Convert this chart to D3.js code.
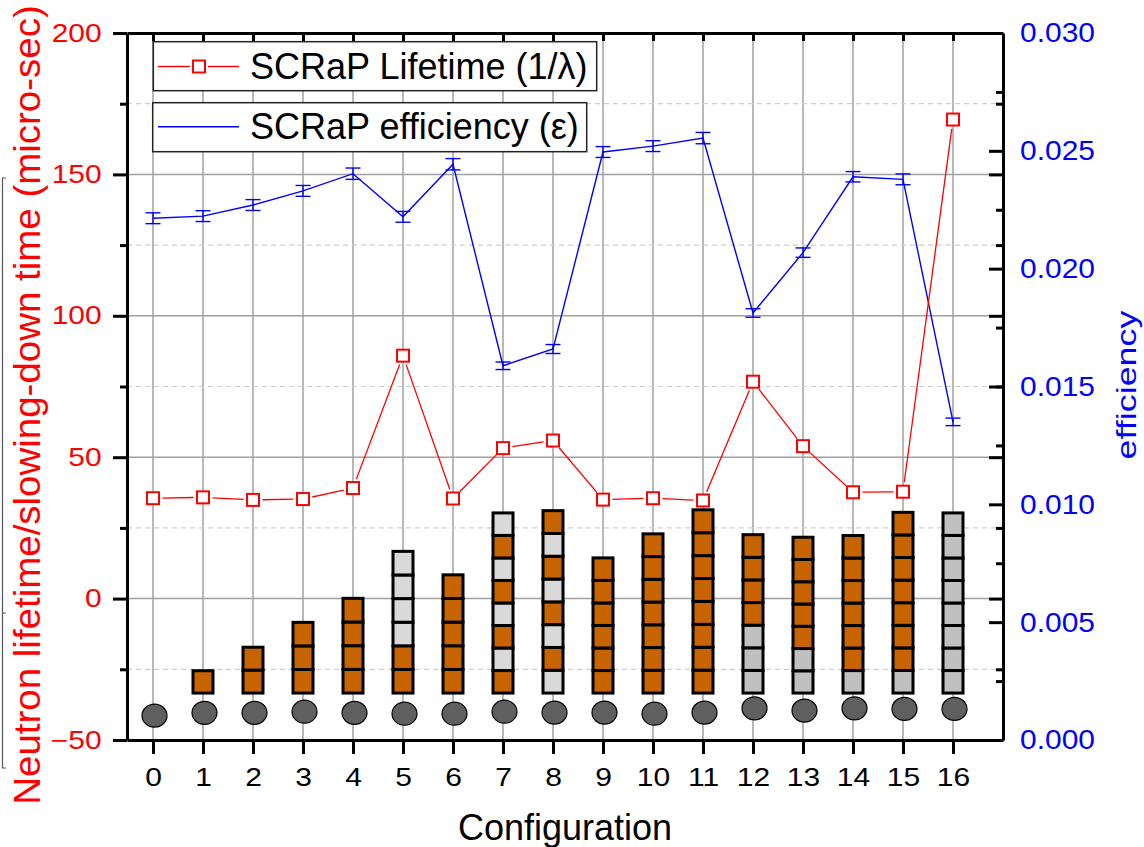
<!DOCTYPE html>
<html><head><meta charset="utf-8">
<script src="https://cdn.jsdelivr.net/npm/d3@7"></script>
<style>
body{margin:0;background:#fff}
svg{display:block}
text{font-family:"Liberation Sans", Arial, Helvetica, sans-serif}
</style>
</head><body>
<svg id="chart" width="1144" height="847"></svg>
<script>
// ---------------- data ----------------
const configs = [0,1,2,3,4,5,6,7,8,9,10,11,12,13,14,15,16];
const lifetime = [35.5, 35.8, 34.9, 35.2, 39.1, 85.9, 35.4, 53.2, 55.9, 35.0, 35.5, 34.7, 76.7, 53.9, 37.6, 37.8, 169.4];
const efficiency = [0.02214, 0.02223, 0.0227, 0.0233, 0.02403, 0.0222, 0.02443, 0.01588, 0.01659, 0.02495, 0.0252, 0.02554, 0.01812, 0.02068, 0.0239, 0.02379, 0.01350];
const efficiencyErr = [0.00023, 0.00023, 0.00023, 0.00023, 0.00024, 0.00023, 0.00024, 0.00016, 0.00019, 0.00023, 0.00023, 0.00024, 0.00018, 0.0002, 0.00022, 0.00023, 0.00016];
// stack composition, bottom to top: O = orange block, L = light grey block, G = grey block
const stackPattern = ["", "O", "OO", "OOO", "OOOO", "OOLLLL", "OOOOO", "OLOLOLOL", "LOLOLOLO", "OOOOOO", "OOOOOOO", "OOOOOOOO", "GGGOOOO", "GGOOOOO", "GOOOOOO", "GOOOOOOO", "GGGGGGGG"];
const stackTop = [null, -25.5, -17.2, -8.4, 0.1, 16.7, 8.4, 30.3, 31.1, 14.4, 22.9, 31.4, 22.6, 21.7, 22.3, 30.5, 30.3];
const stackBase = -33.4;
const discLevel = [-41.4, -40.4, -40.4, -40.0, -40.4, -40.7, -40.7, -40.0, -40.3, -40.3, -40.7, -40.3, -38.8, -39.6, -38.8, -39.0, -39.0];
const leftMajorTicks = [-50, 0, 50, 100, 150, 200];
const leftMinorTicks = [-25, 25, 75, 125, 175];
const rightMajorTicks = [0, 0.005, 0.010, 0.015, 0.020, 0.025, 0.030];
const rightMinorTicks = [0.0025, 0.0075, 0.0125, 0.0175, 0.0225, 0.0275];
const legendLabels = ["SCRaP Lifetime (1/λ)", "SCRaP efficiency (ε)"];
const xTitle = "Configuration";
const yLeftTitle = "Neutron lifetime/slowing-down time (micro-sec)";
const yRightTitle = "efficiency";

// ---------------- layout ----------------
const L = 127, R = 1003, T = 33, B = 740;
const svg = d3.select("#chart");
const x = d3.scaleLinear().domain([-0.52, 17]).range([L, R]);
const yL = d3.scaleLinear().domain([-50, 200]).range([B, T]);
const yR = d3.scaleLinear().domain([0, 0.03]).range([B, T]);
const blockColor = {O: "#C86400", L: "#D9D9D9", G: "#C0C0C0"};
const RED = "#FF0000", BLUE = "#0000FF";

// ---------------- grid ----------------
const grid = svg.append("g");
grid.selectAll("line.v").data(configs).join("line")
  .attr("x1", d => x(d)).attr("x2", d => x(d)).attr("y1", T).attr("y2", B)
  .attr("stroke", "#A0A0A0").attr("stroke-width", 1.5);
grid.selectAll("line.hmaj").data(leftMajorTicks.filter(d => d > -50 && d < 200)).join("line")
  .attr("x1", L).attr("x2", R).attr("y1", d => yL(d)).attr("y2", d => yL(d))
  .attr("stroke", "#A0A0A0").attr("stroke-width", 1.5);
grid.selectAll("line.hmin").data(leftMinorTicks).join("line")
  .attr("x1", L).attr("x2", R).attr("y1", d => yL(d)).attr("y2", d => yL(d))
  .attr("stroke", "#CFCFCF").attr("stroke-width", 1.2).attr("stroke-dasharray", "5,4");

// ---------------- legend boxes ----------------
const leg = svg.append("g");
const legBoxes = [{x: 153.3, y: 41.7, w: 443.4, h: 49}, {x: 152.7, y: 102.7, w: 434, h: 49}];
leg.selectAll("rect").data(legBoxes).join("rect")
  .attr("x", d => d.x).attr("y", d => d.y).attr("width", d => d.w).attr("height", d => d.h)
  .attr("fill", "#fff").attr("stroke", "#222").attr("stroke-width", 1.5);
leg.append("line").attr("x1", 158).attr("x2", 190).attr("y1", 66.5).attr("y2", 66.5).attr("stroke", RED).attr("stroke-width", 1.4);
leg.append("line").attr("x1", 208).attr("x2", 239).attr("y1", 66.5).attr("y2", 66.5).attr("stroke", RED).attr("stroke-width", 1.4);
leg.append("rect").attr("x", 193).attr("y", 60.5).attr("width", 12).attr("height", 12).attr("fill", "#fff").attr("stroke", RED).attr("stroke-width", 2);
leg.append("text").attr("x", 250).attr("y", 78.5).attr("font-size", 36).attr("fill", "#000").text(legendLabels[0]);
leg.append("line").attr("x1", 158).attr("x2", 239).attr("y1", 126.7).attr("y2", 126.7).attr("stroke", BLUE).attr("stroke-width", 1.4);
leg.append("text").attr("x", 250).attr("y", 138.5).attr("font-size", 36).attr("fill", "#000").text(legendLabels[1]);

// ---------------- block stacks ----------------
const blocks = [];
configs.forEach((c, i) => {
  const p = stackPattern[i];
  if (!p) return;
  const h = (stackTop[i] - stackBase) / p.length;
  for (let j = 0; j < p.length; j++) blocks.push({c, k: p[j], lo: stackBase + j * h, hi: stackBase + (j + 1) * h});
});
const bw = 20;
svg.append("g").selectAll("rect").data(blocks).join("rect")
  .attr("x", d => x(d.c) - bw / 2).attr("width", bw)
  .attr("y", d => yL(d.hi)).attr("height", d => yL(d.lo) - yL(d.hi))
  .attr("fill", d => blockColor[d.k]).attr("stroke", "#000").attr("stroke-width", 3);
svg.append("g").selectAll("ellipse").data(configs).join("ellipse")
  .attr("cx", d => x(d) + 1.5).attr("cy", (d, i) => yL(discLevel[i]))
  .attr("rx", 12.5).attr("ry", 11.5)
  .attr("fill", "#5F5F5F").attr("stroke", "#000").attr("stroke-width", 1.2);

// ---------------- efficiency (blue) ----------------
const blue = svg.append("g");
blue.append("path").datum(configs)
  .attr("d", d3.line().x(d => x(d)).y((d, i) => yR(efficiency[i])))
  .attr("fill", "none").attr("stroke", BLUE).attr("stroke-width", 1.4);
const eb = blue.selectAll("g").data(configs).join("g").attr("stroke", BLUE).attr("stroke-width", 1.4);
eb.append("line").attr("x1", d => x(d)).attr("x2", d => x(d))
  .attr("y1", (d, i) => yR(efficiency[i] + efficiencyErr[i])).attr("y2", (d, i) => yR(efficiency[i] - efficiencyErr[i]));
eb.append("line").attr("x1", d => x(d) - 7.5).attr("x2", d => x(d) + 7.5)
  .attr("y1", (d, i) => yR(efficiency[i] + efficiencyErr[i])).attr("y2", (d, i) => yR(efficiency[i] + efficiencyErr[i]));
eb.append("line").attr("x1", d => x(d) - 7.5).attr("x2", d => x(d) + 7.5)
  .attr("y1", (d, i) => yR(efficiency[i] - efficiencyErr[i])).attr("y2", (d, i) => yR(efficiency[i] - efficiencyErr[i]));

// ---------------- lifetime (red) ----------------
const red = svg.append("g");
const pts = configs.map((c, i) => [x(c), yL(lifetime[i])]);
const segs = d3.pairs(pts).map(([p, q]) => {
  const dx = q[0] - p[0], dy = q[1] - p[1], dd = Math.hypot(dx, dy), t = 9.5 / dd;
  return [p[0] + dx * t, p[1] + dy * t, q[0] - dx * t, q[1] - dy * t];
});
red.selectAll("line").data(segs).join("line")
  .attr("x1", d => d[0]).attr("y1", d => d[1]).attr("x2", d => d[2]).attr("y2", d => d[3])
  .attr("stroke", RED).attr("stroke-width", 1.3);
red.selectAll("rect").data(configs).join("rect")
  .attr("x", d => x(d) - 6).attr("y", (d, i) => yL(lifetime[i]) - 6)
  .attr("width", 12).attr("height", 12)
  .attr("fill", "#fff").attr("stroke", RED).attr("stroke-width", 2);

// ---------------- axes ----------------
function thick(g) {
  g.attr("font-size", null).attr("font-family", null);
  g.select(".domain").attr("stroke", "#000").attr("stroke-width", 3);
  g.selectAll(".tick line").attr("stroke", "#000").attr("stroke-width", 3);
}
svg.append("g").attr("transform", `translate(${L},0)`)
  .call(d3.axisLeft(yL).tickValues(leftMajorTicks).tickSize(14).tickSizeOuter(0).tickPadding(7.1).tickFormat(d3.format("d")))
  .call(thick)
  .call(g => g.selectAll("text").attr("fill", RED).attr("font-size", 25).attr("transform", "scale(1.2,1)"));
svg.append("g").attr("transform", `translate(${L},0)`)
  .call(d3.axisLeft(yL).tickValues(leftMinorTicks).tickSize(7).tickSizeOuter(0).tickFormat(""))
  .call(thick).call(g => g.select(".domain").remove());
svg.append("g").attr("transform", `translate(${R},0)`)
  .call(d3.axisLeft(yL).tickValues(leftMajorTicks).tickSize(14).tickSizeOuter(0).tickFormat(""))
  .call(thick).call(g => g.select(".domain").remove());
svg.append("g").attr("transform", `translate(${R},0)`)
  .call(d3.axisLeft(yL).tickValues(leftMinorTicks).tickSize(7).tickSizeOuter(0).tickFormat(""))
  .call(thick).call(g => g.select(".domain").remove());
svg.append("g").attr("transform", `translate(${R},0)`)
  .call(d3.axisRight(yR).tickValues(rightMajorTicks).tickSize(-14).tickSizeOuter(0).tickPadding(15.9).tickFormat(d3.format(".3f")))
  .call(thick)
  .call(g => g.selectAll("text").attr("fill", BLUE).attr("font-size", 28).attr("transform", "scale(1.07,1)"));
svg.append("g").attr("transform", `translate(${R},0)`)
  .call(d3.axisRight(yR).tickValues(rightMinorTicks).tickSize(-7).tickSizeOuter(0).tickFormat(""))
  .call(thick).call(g => g.select(".domain").remove());
svg.append("g").attr("transform", `translate(0,${B})`)
  .call(d3.axisBottom(x).tickValues(configs).tickSize(14).tickSizeOuter(0).tickPadding(14).tickFormat(d3.format("d")))
  .call(thick)
  .call(g => g.selectAll("text").attr("fill", "#000").attr("font-size", 25).attr("transform", "scale(1.2,1)"));
svg.append("g").attr("transform", `translate(0,${T})`)
  .call(d3.axisTop(x).tickValues(configs).tickSize(-8).tickSizeOuter(0).tickFormat(""))
  .call(thick);

// ---------------- titles ----------------
svg.append("text").attr("x", (L + R) / 2).attr("y", 840).attr("text-anchor", "middle")
  .attr("font-size", 36).attr("fill", "#000").text(xTitle);
svg.append("text").attr("transform", "translate(40,405) rotate(-90) scale(1.04,1)").attr("text-anchor", "middle")
  .attr("font-size", 37).attr("fill", RED).text(yLeftTitle);
svg.append("text").attr("transform", "translate(1136,385) rotate(-90) scale(1.33,1)").attr("text-anchor", "middle")
  .attr("font-size", 27).attr("fill", BLUE).text(yRightTitle);

svg.append("path").attr("d", "M6,178 H2.5 V768 H6 M2.5,613 H6")
  .attr("fill", "none").attr("stroke", "#555").attr("stroke-width", 1.2);
</script>
</body></html>
